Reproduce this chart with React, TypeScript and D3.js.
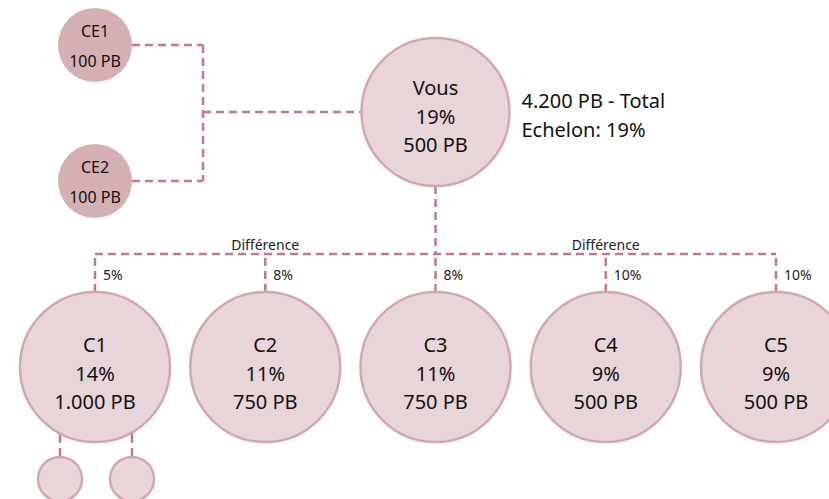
import React, { useEffect, useRef } from 'react';
import * as d3 from 'd3';

const parentNames = ['CE1', 'CE2'];
const parentValues = ['100 PB', '100 PB'];

const meName = 'Vous';
const mePercent = '19%';
const meValue = '500 PB';
const meInfo = ['4.200 PB - Total', 'Echelon: 19%'];

const childNames = ['C1', 'C2', 'C3', 'C4', 'C5'];
const childPercents = ['14%', '11%', '11%', '9%', '9%'];
const childValues = ['1.000 PB', '750 PB', '750 PB', '500 PB', '500 PB'];
const childDiffs = ['5%', '8%', '8%', '10%', '10%'];
const diffLabel = 'Différence';
const diffAt = ['C2', 'C4'];

const grandchildCount = 2;

const W = 829;
const H = 499;
const lineColor = '#c27a88';
const lightFill = '#e8d5d8';
const lightStroke = '#d3a7ae';
const darkFill = '#d4b0b5';
const font = "'Noto Sans', sans-serif";

export default function App() {
  const ref = useRef<SVGSVGElement>(null);

  useEffect(() => {
    const svg = d3.select(ref.current);
    svg.selectAll('*').remove();

    const xChild = d3.scalePoint<string>().domain(childNames).range([95, 776]);
    const yParent = d3.scalePoint<string>().domain(parentNames).range([45, 181]);
    const meX = xChild('C3') as number;
    const meY = 112;
    const childY = 367;
    const busY = 254;
    const elbowX = 203;

    const dashed = (g: any) =>
      g.attr('fill', 'none')
        .attr('stroke', lineColor)
        .attr('stroke-width', 2.5)
        .attr('stroke-dasharray', '8,5');

    // links parents -> me
    const pr = 37;
    parentNames.forEach((n) => {
      const y = yParent(n) as number;
      svg.append('path')
        .attr('d', `M${95 + pr},${y}H${elbowX}`)
        .call(dashed);
    });
    svg.append('path')
      .attr('d', `M${elbowX},${yParent('CE1')}V${yParent('CE2')}`)
      .call(dashed);
    svg.append('path')
      .attr('d', `M${elbowX},${meY}H${meX - 74}`)
      .call(dashed);

    // me -> bus
    svg.append('path')
      .attr('d', `M${meX},${meY + 74}V${busY}`)
      .call(dashed);
    svg.append('path')
      .attr('d', `M${xChild('C1')},${busY}H${xChild('C5')}`)
      .call(dashed);

    // bus -> children
    childNames.forEach((n, i) => {
      const x = xChild(n) as number;
      svg.append('path')
        .attr('d', `M${x},${busY}V${childY - 75}`)
        .call(dashed)
        .attr('stroke-dashoffset', -4);
      svg.append('text')
        .attr('x', x + 8)
        .attr('y', busY + 26)
        .attr('font-family', font)
        .attr('font-size', 14)
        .attr('fill', '#222')
        .text(childDiffs[i]);
    });

    // Différence labels
    diffAt.forEach((c) => {
      svg.append('text')
        .attr('x', xChild(c) as number)
        .attr('y', busY - 4)
        .attr('text-anchor', 'middle')
        .attr('font-family', font)
        .attr('font-size', 14)
        .attr('fill', '#222')
        .text(diffLabel);
    });

    // grandchildren of C1
    const gx = d3.scalePoint<number>().domain(d3.range(grandchildCount)).range([60, 132]);
    const gy = 479;
    d3.range(grandchildCount).forEach((k) => {
      const x = gx(k) as number;
      svg.append('path')
        .attr('d', `M${x},${childY + 66}V${gy - 22}`)
        .call(dashed)
        .attr('stroke-dasharray', '10,5');
      svg.append('circle')
        .attr('cx', x)
        .attr('cy', gy)
        .attr('r', 22)
        .attr('fill', lightFill)
        .attr('stroke', lightStroke)
        .attr('stroke-width', 2.5);
    });

    // parents
    parentNames.forEach((n, i) => {
      const y = yParent(n) as number;
      svg.append('circle')
        .attr('cx', 95)
        .attr('cy', y)
        .attr('r', pr)
        .attr('fill', darkFill);
      svg.append('text')
        .attr('x', 95)
        .attr('y', y - 8)
        .attr('text-anchor', 'middle')
        .attr('font-family', font)
        .attr('font-size', 16)
        .attr('fill', '#111')
        .text(n);
      svg.append('text')
        .attr('x', 95)
        .attr('y', y + 22)
        .attr('text-anchor', 'middle')
        .attr('font-family', font)
        .attr('font-size', 16)
        .attr('fill', '#111')
        .text(parentValues[i]);
    });

    // me
    svg.append('circle')
      .attr('cx', meX)
      .attr('cy', meY)
      .attr('r', 74)
      .attr('fill', lightFill)
      .attr('stroke', lightStroke)
      .attr('stroke-width', 2.5);
    [meName, mePercent, meValue].forEach((t, i) => {
      svg.append('text')
        .attr('x', meX)
        .attr('y', meY - 17 + i * 28.5)
        .attr('text-anchor', 'middle')
        .attr('font-family', font)
        .attr('font-size', 20)
        .attr('fill', '#111')
        .text(t);
    });
    meInfo.forEach((t, i) => {
      svg.append('text')
        .attr('x', meX + 86)
        .attr('y', 108 + i * 29)
        .attr('font-family', font)
        .attr('font-size', 20)
        .attr('fill', '#111')
        .text(t);
    });

    // children
    childNames.forEach((n, i) => {
      const x = xChild(n) as number;
      svg.append('circle')
        .attr('cx', x)
        .attr('cy', childY)
        .attr('r', 75)
        .attr('fill', lightFill)
        .attr('stroke', lightStroke)
        .attr('stroke-width', 2.5);
      [n, childPercents[i], childValues[i]].forEach((t, j) => {
        svg.append('text')
          .attr('x', x)
          .attr('y', childY - 15 + j * 28.5)
          .attr('text-anchor', 'middle')
          .attr('font-family', font)
          .attr('font-size', 20)
          .attr('fill', '#111')
          .text(t);
      });
    });
  }, []);

  return (
    <svg ref={ref} width={W} height={H} style={{ position: 'absolute', left: 0, top: 0 }} />
  );
}
